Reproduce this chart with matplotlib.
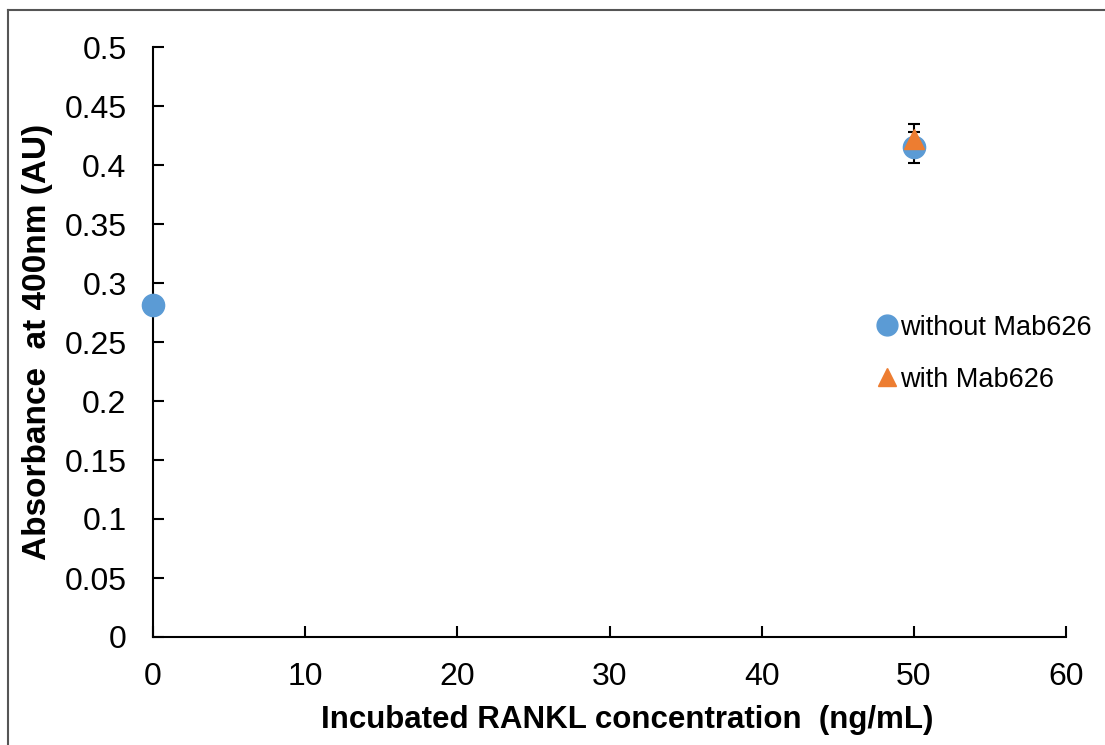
import matplotlib.pyplot as plt
from matplotlib.lines import Line2D

plt.rcParams['font.family'] = ['Liberation Sans', 'DejaVu Sans']

# dados
conc_sem = [0, 50]
abs_sem = [0.281, 0.415]
err_sem = [0.002, 0.013]

conc_com = [50]
abs_com = [0.422]
err_com = [0.013]

xticks = [0, 10, 20, 30, 40, 50, 60]
yticks = [0, 0.05, 0.1, 0.15, 0.2, 0.25, 0.3, 0.35, 0.4, 0.45, 0.5]
ylabels = ['0', '0.05', '0.1', '0.15', '0.2', '0.25', '0.3', '0.35', '0.4', '0.45', '0.5']

azul = '#5B9BD5'
laranja = '#ED7D31'

fig = plt.figure(figsize=(11.05, 7.45), dpi=100)
ax = fig.add_axes([153/1105, 1-637/745, (1066-153)/1105, (637-47)/745])

# barras de erro por baixo dos marcadores
ax.errorbar(conc_sem, abs_sem, yerr=err_sem, fmt='none', ecolor='black',
            elinewidth=1.5, capsize=4, capthick=1.5, zorder=2)
ax.errorbar(conc_com, abs_com, yerr=err_com, fmt='none', ecolor='black',
            elinewidth=1.5, capsize=4, capthick=1.5, zorder=2)
ax.plot(conc_sem, abs_sem, 'o', color=azul, ms=16, zorder=3, clip_on=False)
ax.plot(conc_com, abs_com, '^', color=laranja, ms=14, zorder=4, clip_on=False)

ax.set_xlim(0, 60)
ax.set_ylim(0, 0.5)
ax.set_xticks(xticks)
ax.set_yticks(yticks)
ax.set_yticklabels(ylabels)
ax.tick_params(direction='in', length=8, width=1.5, labelsize=23, color='black')
ax.tick_params(axis='y', pad=19)
ax.tick_params(axis='x', pad=18)
for lado in ['top', 'right']:
    ax.spines[lado].set_visible(False)
for lado in ['left', 'bottom']:
    ax.spines[lado].set_linewidth(1.5)

ax.set_xlabel('Incubated RANKL concentration  (ng/mL)', fontsize=22.5, fontweight='bold')
ax.set_ylabel('Absorbance  at 400nm (AU)', fontsize=24, fontweight='bold')
ax.xaxis.set_label_coords(0.519, -0.115)
ax.yaxis.set_label_coords(-0.1095, 0.5)

handles = [Line2D([], [], marker='o', color=azul, ls='none', ms=15),
           Line2D([], [], marker='^', color=laranja, ls='none', ms=13)]
ax.legend(handles, ['without Mab626', 'with Mab626'], frameon=False, fontsize=19.5,
          loc='center left', bbox_to_anchor=(0.792, 0.48), borderaxespad=0,
          borderpad=0, handletextpad=0.1, handlelength=0.8, labelspacing=0.95)

# borda da imagem
fig.add_artist(Line2D([8/1105, 8/1105], [0, 1-10/745], color='#555555', lw=1.5))
fig.add_artist(Line2D([8/1105, 1], [1-10/745, 1-10/745], color='#555555', lw=1.5))

fig.savefig('out.png', dpi=100)
